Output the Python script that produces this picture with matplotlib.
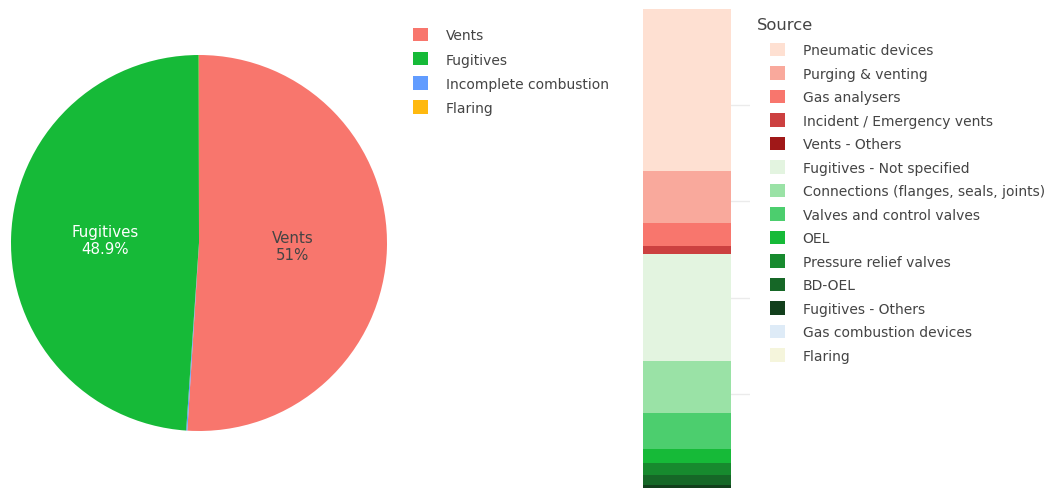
import matplotlib.pyplot as plt
from matplotlib.patches import Patch

# Pie: emission categories (%), in legend order
categories = ['Vents', 'Fugitives', 'Incomplete combustion', 'Flaring']
shares = [51.0, 48.9, 0.1, 0.02]
cat_colors = ['#F8766D', '#16BA38', '#619CFF', '#FFB90F']
# order of the slices going clockwise from 12 o'clock
pie_order = [0, 2, 1, 3]

# Stacked bar: sources (% of total), listed top to bottom
sources = ['Pneumatic devices', 'Purging & venting', 'Gas analysers',
           'Incident / Emergency vents', 'Vents - Others',
           'Fugitives - Not specified', 'Connections (flanges, seals, joints)',
           'Valves and control valves', 'OEL', 'Pressure relief valves',
           'BD-OEL', 'Fugitives - Others', 'Gas combustion devices', 'Flaring']
source_values = [33.8, 10.8, 4.7, 1.6, 0.1,
                 22.2, 10.8, 7.5, 2.9, 2.5, 2.1, 0.9, 0.1, 0.02]
source_colors = ['#FEE0D2', '#F9A99C', '#F8766D', '#CC4040', '#A01818',
                 '#E3F4E0', '#9AE2A6', '#4CCE6E', '#16BA38', '#178A2E',
                 '#166727', '#123F1C', '#DEEBF7', '#F5F5DC']

W, H = 1055, 489
fig = plt.figure(figsize=(W / 100, H / 100), dpi=100)
TXT = '#444444'
FS = 10

# ---- pie ----
cx, cy, r = 199, 244, 188
ax_pie = fig.add_axes([(cx - r) / W, (H - cy - r) / H, 2 * r / W, 2 * r / H])
pie_names = [categories[i] for i in pie_order]
pie_vals = [shares[i] for i in pie_order]
pie_cols = [cat_colors[i] for i in pie_order]
lab_iter = iter(pie_names)


def pie_label(pct):
    name = next(lab_iter)
    if pct < 5:
        return ''
    return f'{name}\n{pct:.3g}%'


wedges, _, autotexts = ax_pie.pie(pie_vals, colors=pie_cols, startangle=90,
                                  counterclock=False, autopct=pie_label,
                                  pctdistance=0.5, radius=1,
                                  wedgeprops=dict(linewidth=0),
                                  textprops=dict(fontsize=10.8, linespacing=1.2))
for t, name in zip(autotexts, pie_names):
    t.set_color('white' if name == 'Fugitives' else TXT)
ax_pie.set_xlim(-1, 1)
ax_pie.set_ylim(-1, 1)
ax_pie.set_aspect('equal')

handles = [Patch(facecolor=c, edgecolor='none') for c in cat_colors]
leg1 = fig.legend(handles, categories, loc='upper left',
                  bbox_to_anchor=(413 / W, 1 - 29 / H), frameon=False,
                  fontsize=FS, handlelength=1.1, handleheight=1.1,
                  handletextpad=1.25, labelspacing=0.7, borderpad=0,
                  borderaxespad=0)
for t in leg1.get_texts():
    t.set_color(TXT)

# ---- stacked bar ----
bx0, bx1, by0, by1 = 643, 750, 10, 491
ax_bar = fig.add_axes([bx0 / W, (H - by1) / H, (bx1 - bx0) / W, (by1 - by0) / H])
bottom = 0
for name, val, col in zip(sources[::-1], source_values[::-1], source_colors[::-1]):
    ax_bar.bar(0, val, bottom=bottom, width=88 / 107, align='edge',
               color=col, edgecolor='none', zorder=2)
    bottom += val
ax_bar.set_xlim(0, 1)
ax_bar.set_ylim(0, 100)
ax_bar.set_yticks([20, 40, 60, 80])
ax_bar.yaxis.grid(True, color='#EBEBEB', linewidth=1, zorder=0)
ax_bar.tick_params(left=False, bottom=False, labelleft=False, labelbottom=False)
ax_bar.set_xticks([])
for s in ax_bar.spines.values():
    s.set_visible(False)
ax_bar.set_axisbelow(True)

fig.text(757 / W, 1 - 26 / H, 'Source', fontsize=11.8, color=TXT,
         ha='left', va='center')
handles2 = [Patch(facecolor=c, edgecolor='none') for c in source_colors]
leg2 = fig.legend(handles2, sources, loc='upper left',
                  bbox_to_anchor=(770 / W, 1 - 44 / H), frameon=False,
                  fontsize=FS, handlelength=1.1, handleheight=1.1,
                  handletextpad=1.25, labelspacing=0.655, borderpad=0,
                  borderaxespad=0)
for t in leg2.get_texts():
    t.set_color(TXT)

fig.savefig('out.png', dpi=100)
